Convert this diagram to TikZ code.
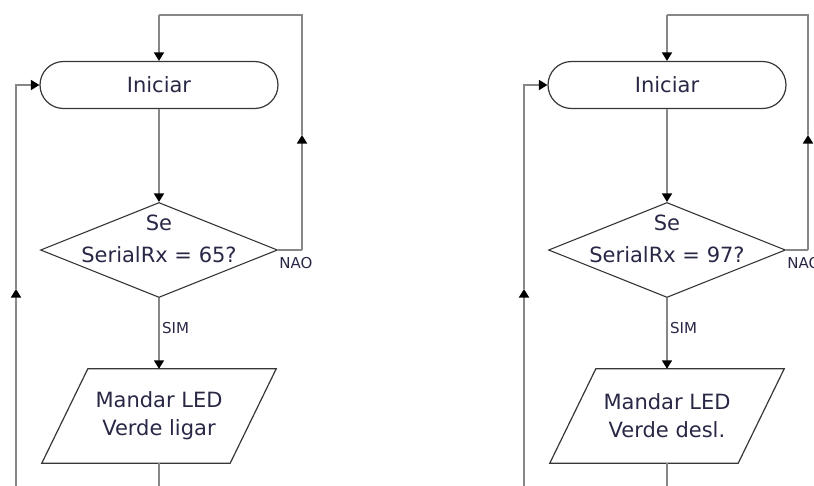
\documentclass[tikz,border=0pt]{standalone}
\usepackage{fontspec}
\newfontfamily\chartfont{DejaVu Sans}
\usetikzlibrary{shapes.geometric,shapes.misc,arrows.meta}
\definecolor{inkline}{RGB}{135,135,135}
\definecolor{edgeline}{RGB}{55,55,55}
\definecolor{inktext}{RGB}{40,40,70}
\begin{document}
\begin{tikzpicture}[x=1pt,y=-1pt,
  terminal/.style={rounded rectangle, draw=edgeline, line width=1.2pt,
    minimum width=238pt, minimum height=47pt, inner sep=0pt,
    font=\chartfont\fontsize{21}{25}\selectfont, text=inktext},
  decision/.style={diamond, draw=edgeline, line width=1.1pt,
    minimum width=237pt, minimum height=95pt, inner sep=0pt},
  dtext/.style={align=center, inner sep=0pt, text=inktext,
    font=\chartfont\fontsize{21}{32}\selectfont},
  iobox/.style={rectangle, minimum width=188pt, minimum height=94pt,
    inner sep=0pt, align=center, text=inktext,
    font=\chartfont\fontsize{21}{28}\selectfont},
  slant/.style={draw=edgeline, line width=1.2pt},
  conn/.style={draw=inkline, line width=1.7pt},
  arrowed/.style={-{Triangle[width=10pt,length=8.5pt,color=black]}},
  tag/.style={font=\chartfont\fontsize{15}{17}\selectfont, text=inktext, inner sep=0pt}
]
\fill[white] (0,0) rectangle (814,485);
\useasboundingbox (0,0) rectangle (814,485);

\foreach \i/\dx/\val/\act/\rx in {1/0/65/ligar/302, 2/508/97/desl./808} {
  % shapes of one flowchart
  \node[terminal] (start\i) at (159+\dx,85) {Iniciar};
  \node[decision] (test\i) at (159+\dx,250) {};
  \node[dtext] (testtext\i) at (159+\dx,239) {Se\\SerialRx = \val?};
  \node[iobox] (out\i) at (159+\dx,416) {Mandar LED\\Verde \act};
  \draw[slant] ([xshift=23pt]out\i.north west) -- ([xshift=23pt]out\i.north east)
    -- ([xshift=-23pt]out\i.south east) -- ([xshift=-23pt]out\i.south west) -- cycle;

  % bends and free ends of the connectors
  \coordinate (nob\i) at (\rx,250);
  \coordinate (nomid\i) at (\rx,135);
  \coordinate (topl\i) at (159+\dx,15);
  \coordinate (lbot\i) at (16+\dx,490);
  \coordinate (lmid\i) at (16+\dx,289);
  \coordinate (mbot\i) at (159+\dx,490);

  % main flow
  \draw[conn,arrowed] (start\i) -- (test\i);
  \draw[conn,arrowed] (test\i.south) -- (out\i.north);
  \draw[conn] (out\i.south) -- (mbot\i);

  % "no" branch back to the start
  \draw[conn] (test\i.east) -- (nob\i);
  \draw[conn,arrowed] (nob\i) -- (nomid\i);
  \draw[conn] (nomid\i) |- (topl\i);
  \draw[conn,arrowed] (topl\i) -- (start\i.north);

  % return loop on the left
  \draw[conn,arrowed] (lbot\i) -- (lmid\i);
  \draw[conn,arrowed] (lmid\i) |- (start\i.west);

  % branch labels
  \node[tag, anchor=west] (sim\i) at (162+\dx,328) {SIM};
  \node[tag] (nao\i) at (296+\dx,263) {NAO};
}
\end{tikzpicture}
\end{document}
